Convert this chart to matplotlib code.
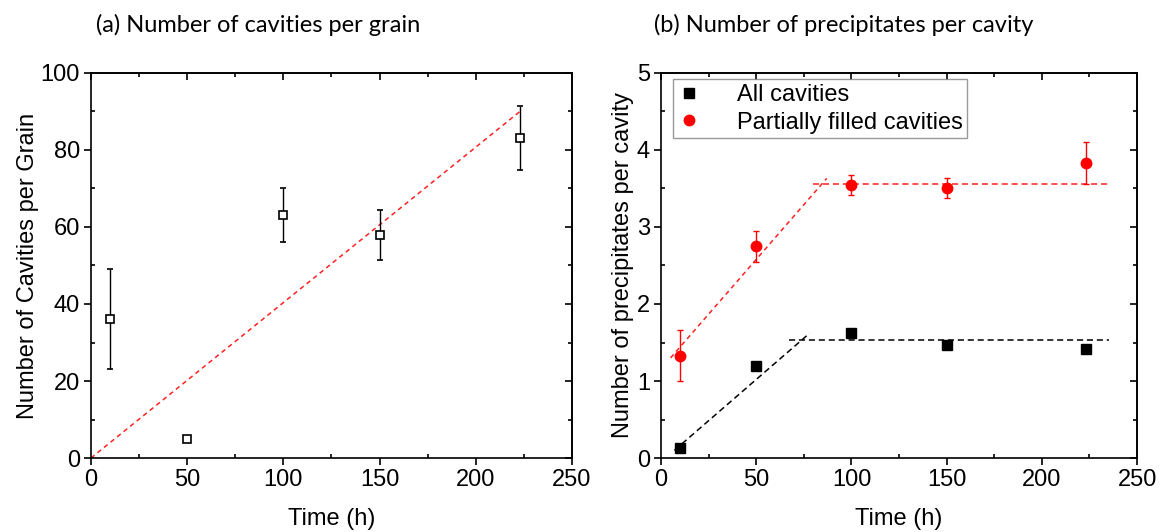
import matplotlib
matplotlib.use("Agg")
import matplotlib.pyplot as plt
from matplotlib.ticker import MultipleLocator

plt.rcParams['font.family'] = ['Liberation Sans', 'DejaVu Sans']

# Panel (a)
time_a = [10, 50, 100, 150, 223]
cav_per_grain = [36, 5, 63, 58, 83]
cav_err = [13, 0, 7, 6.5, 8.3]
fit_a_x = [0, 223]
fit_a_y = [0, 90]

# Panel (b)
time_b = [10, 50, 100, 150, 223]
all_cav = [0.13, 1.19, 1.62, 1.47, 1.41]
partial_cav = [1.33, 2.75, 3.54, 3.51, 3.83]
partial_err = [0.33, 0.2, 0.13, 0.13, 0.27]
fit_red_rise_x = [5, 87]
fit_red_rise_y = [1.3, 3.63]
fit_red_flat_x = [80, 235]
fit_red_flat_y = [3.56, 3.56]
fit_blk_rise_x = [7, 78]
fit_blk_rise_y = [0.1, 1.62]
fit_blk_flat_x = [67, 235]
fit_blk_flat_y = [1.53, 1.53]

FS = 17

fig = plt.figure(figsize=(11.63, 5.32), dpi=100)
axA = fig.add_axes([0.0782, 0.139, 0.4136, 0.724])
axB = fig.add_axes([0.5684, 0.139, 0.4093, 0.724])


def style(ax, xmaj, xmin, ymaj, ymin):
    ax.xaxis.set_major_locator(MultipleLocator(xmaj))
    ax.xaxis.set_minor_locator(MultipleLocator(xmin))
    ax.yaxis.set_major_locator(MultipleLocator(ymaj))
    ax.yaxis.set_minor_locator(MultipleLocator(ymin))
    ax.tick_params(which='major', direction='out', length=5, width=1.2, labelsize=FS, pad=3)
    ax.tick_params(which='minor', direction='in', length=3, width=1.2)
    for s in ax.spines.values():
        s.set_linewidth(1.2)
    for pos in ('top', 'right'):
        if pos == 'top':
            sec = ax.secondary_xaxis('top')
            sec.xaxis.set_major_locator(MultipleLocator(xmaj))
            sec.xaxis.set_minor_locator(MultipleLocator(xmin))
        else:
            sec = ax.secondary_yaxis('right')
            sec.yaxis.set_major_locator(MultipleLocator(ymaj))
            sec.yaxis.set_minor_locator(MultipleLocator(ymin))
        sec.tick_params(which='major', direction='in', length=5, width=1.2,
                        labeltop=False, labelright=False)
        sec.tick_params(which='minor', direction='in', length=3, width=1.2)
        sec.spines[pos].set_linewidth(1.2)


# Panel (a)
axA.plot(fit_a_x, fit_a_y, ls=(0, (3, 2.5)), color='#ff2020', lw=1.1)
axA.errorbar(time_a, cav_per_grain, yerr=cav_err, fmt='s', ms=6, mfc='white',
             mec='black', mew=1.2, ecolor='black', elinewidth=1.0, capsize=2.5,
             capthick=1.0, zorder=3)
axA.set_xlim(0, 250)
axA.set_ylim(0, 100)
style(axA, 50, 25, 20, 10)
axA.set_xlabel('Time (h)', fontsize=FS, labelpad=12)
axA.set_ylabel('Number of Cavities per Grain', fontsize=FS, labelpad=1)
fig.text(0.0825, 0.953, '(a) Number of cavities per grain', fontsize=17,
         family='Lato', va='center', ha='left')

# Panel (b)
axB.plot(fit_red_rise_x, fit_red_rise_y, ls=(0, (3, 2.5)), color='#ff2020', lw=1.1)
axB.plot(fit_red_flat_x, fit_red_flat_y, ls=(0, (4, 2.5)), color='#ff2020', lw=1.1)
axB.plot(fit_blk_rise_x, fit_blk_rise_y, ls=(0, (4, 2.5)), color='black', lw=1.1)
axB.plot(fit_blk_flat_x, fit_blk_flat_y, ls=(0, (4, 2.5)), color='black', lw=1.1)
axB.errorbar(time_b, all_cav, fmt='s', ms=6.5, color='black', label='All cavities', zorder=3)
axB.errorbar(time_b, partial_cav, yerr=partial_err, fmt='o', ms=7.5, color='#ff0000',
             ecolor='#ff0000', elinewidth=1.0, capsize=2.5, capthick=1.0,
             label='Partially filled cavities', zorder=3)
axB.set_xlim(0, 250)
axB.set_ylim(0, 5)
style(axB, 50, 25, 1, 0.5)
axB.set_xlabel('Time (h)', fontsize=FS, labelpad=12)
axB.set_ylabel('Number of precipitates per cavity', fontsize=FS, labelpad=2)
handles, labels = axB.get_legend_handles_labels()
handles = [h[0] for h in handles]
leg = axB.legend(handles, labels, loc='upper left', fontsize=FS, frameon=True,
                 fancybox=False, edgecolor='#808080', handlelength=1.0,
                 handletextpad=1.5, borderpad=0.2, labelspacing=0.25,
                 bbox_to_anchor=(0.025, 0.984), borderaxespad=0)
leg.get_frame().set_linewidth(1.0)
fig.text(0.5625, 0.953, '(b) Number of precipitates per cavity', fontsize=17,
         family='Lato', va='center', ha='left')

fig.savefig('out.png', dpi=100)
